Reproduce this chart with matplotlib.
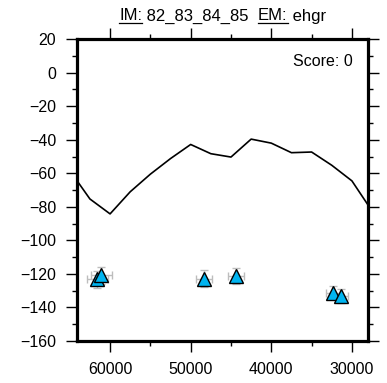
import numpy as np
import matplotlib
matplotlib.use("Agg")
import matplotlib.pyplot as plt
from matplotlib.ticker import MultipleLocator
from matplotlib.lines import Line2D

plt.rcParams['font.family'] = ['Liberation Sans', 'DejaVu Sans']

# model curve
curve_x = [64000, 62500, 60000, 57500, 55000, 52500, 50000, 47500, 45000,
           42500, 40000, 37500, 35000, 32500, 30000, 28000]
curve_y = [-65.1, -75.3, -84.2, -71.0, -60.5, -51.2, -42.8, -48.3, -50.3,
           -39.6, -42.0, -47.7, -47.3, -55.2, -64.5, -78.9]

# observations
obs_x = [61570, 61080, 48320, 44390, 32330, 31380]
obs_y = [-123.3, -120.9, -122.8, -121.3, -131.1, -133.1]
obs_xerr = [1300, 1300, 1000, 1000, 900, 900]
obs_yerr = [5, 5, 5, 5, 4, 4]

title_parts = [("IM:", True), (" 82_83_84_85  ", False), ("EM:", True), (" ehgr", False)]
score_text = "Score: 0"

fig = plt.figure(figsize=(3.87, 3.83), dpi=100)
ax = fig.add_axes([0.199, 0.1097, 0.752, 0.788])

ax.plot(curve_x, curve_y, color='black', lw=1.2, zorder=2, clip_on=True)
ax.errorbar(obs_x, obs_y, xerr=obs_xerr, yerr=obs_yerr, fmt='none',
            ecolor='#bdbdbd', elinewidth=1.0, capsize=3, capthick=1.0, zorder=3)
ax.plot(obs_x, obs_y, '^', ms=9.5, mfc='#00b4f0', mec='black', mew=1.0, zorder=4)

ax.set_xlim(64100, 28000)
ax.set_ylim(-160, 20)
ax.xaxis.set_major_locator(MultipleLocator(10000))
ax.xaxis.set_minor_locator(MultipleLocator(5000))
ax.yaxis.set_major_locator(MultipleLocator(20))
ax.yaxis.set_minor_locator(MultipleLocator(10))
ax.tick_params(which='both', direction='out', top=True, right=True,
               width=1.0, labelsize=11.5, colors='black')
ax.tick_params(which='major', length=8, pad=7)
ax.tick_params(which='minor', length=3.6)
for s in ax.spines.values():
    s.set_linewidth(2.3)

ax.text(0.948, 0.925, score_text, transform=ax.transAxes, ha='right', va='center',
        fontsize=11.5)

# title with underlined pieces
fs = 12
fig.canvas.draw()
renderer = fig.canvas.get_renderer()
full = "".join(p for p, _ in title_parts)
tmp = fig.text(0, 0, full, fontsize=fs)
total_w = tmp.get_window_extent(renderer).width
tmp.remove()
x0 = 222.5 - total_w / 2
baseline = 383 - 20.5
texts = []
prev = None
for part, ul in title_parts:
    if prev is None:
        t = fig.text(x0 / 387, baseline / 383, part, fontsize=fs, va='baseline')
    else:
        t = fig.text(0, 0, part, fontsize=fs, va='baseline')
        ext = prev.get_window_extent(renderer)
        t.set_position((ext.x1 / 387, baseline / 383))
    fig.canvas.draw()
    texts.append((t, ul))
    prev = t
for t, ul in texts:
    if ul:
        ext = t.get_window_extent(renderer)
        yline = (baseline - 2.5) / 383
        fig.add_artist(Line2D([ext.x0 / 387, ext.x1 / 387], [yline, yline],
                              transform=fig.transFigure, color='black', lw=0.9))

plt.savefig('out.png', dpi=100)
